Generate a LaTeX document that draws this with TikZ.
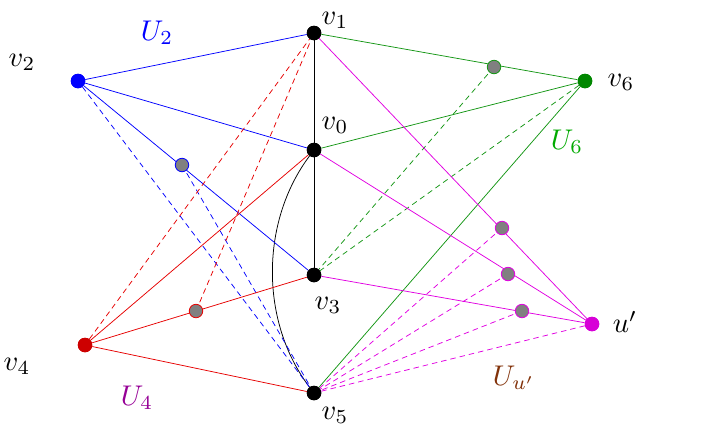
\documentclass[tikz,border=0pt]{standalone}
\usetikzlibrary{calc}
\definecolor{cblue}{RGB}{0,0,255}
\definecolor{cgreen}{RGB}{20,150,20}
\definecolor{cgreendot}{RGB}{0,135,0}
\definecolor{cgreenlab}{RGB}{0,170,0}
\definecolor{cred}{RGB}{230,0,0}
\definecolor{creddot}{RGB}{205,0,0}
\definecolor{cmag}{RGB}{225,0,225}
\definecolor{cmagdot}{RGB}{215,0,215}
\definecolor{cpurp}{RGB}{150,0,150}
\definecolor{cbrown}{RGB}{130,50,10}
\definecolor{cgray}{RGB}{128,128,128}
\begin{document}
\begin{tikzpicture}[x=1pt,y=-1pt,
  dot/.style={circle,inner sep=0pt,minimum size=14.5pt},
  bdot/.style={dot,fill=black},
  gdot/.style={dot,fill=cgray,draw=#1,line width=0.8pt,minimum size=13.5pt},
  edge/.style={line width=0.75pt},
  dedge/.style={line width=0.75pt,dash pattern=on 5.5pt off 4pt},
  lab/.style={font=\normalsize,scale=2.85,inner sep=0pt}]
\useasboundingbox (0,0) rectangle (708,432);
% vertices
\node[bdot] (v1) at (314,33) {};
\node[bdot] (v0) at (314,150) {};
\node[bdot] (v3) at (314,275) {};
\node[bdot] (v5) at (314,393) {};
\node[dot,fill=cblue] (v2) at (78,81) {};
\node[dot,fill=cgreendot] (v6) at (585,81) {};
\node[dot,fill=creddot] (v4) at (85,345) {};
\node[dot,fill=cmagdot] (u) at (592,324) {};
% gray points
\coordinate (pg6) at (494,67);
\coordinate (pg2) at (182,165);
\coordinate (pg4) at (196,311);
\coordinate (pu1) at (502,228);
\coordinate (pu2) at (508,274);
\coordinate (pu3) at (522,311);
% edges drawn first
\draw[edge] (v1) -- (v0) -- (v3);
\draw[edge] (v0) .. controls (260,222) and (260,322) .. (v5);
% blue
\draw[edge,cblue] (v2) -- (v1);
\draw[edge,cblue] (v2) -- (v0);
\draw[edge,cblue] (v2) -- (v3);
\draw[dedge,cblue] (v2) -- (v5);
\draw[dedge,cblue] (pg2) -- (v5);
% green
\draw[edge,cgreen] (v1) -- (v6);
\draw[edge,cgreen] (v0) -- (v6);
\draw[edge,cgreen] (v6) -- (v5);
\draw[dedge,cgreen] (pg6) -- (v3);
\draw[dedge,cgreen] (v6) -- (v3);
% red
\draw[edge,cred] (v4) -- (v0);
\draw[edge,cred] (v4) -- (v3);
\draw[edge,cred] (v4) -- (v5);
\draw[dedge,cred] (v4) -- (v1);
\draw[dedge,cred] (pg4) -- (v1);
% magenta
\draw[edge,cmag] (v1) -- (u);
\draw[edge,cmag] (v0) -- (u);
\draw[edge,cmag] (v3) -- (u);
\draw[dedge,cmag] (pu1) -- (v5);
\draw[dedge,cmag] (pu2) -- (v5);
\draw[dedge,cmag] (pu3) -- (v5);
\draw[dedge,cmag] (u) -- (v5);
% redraw vertices on top
\node[bdot] at (v1) {};
\node[bdot] at (v0) {};
\node[bdot] at (v3) {};
\node[bdot] at (v5) {};
\node[dot,fill=cblue] at (v2) {};
\node[dot,fill=cgreendot] at (v6) {};
\node[dot,fill=creddot] at (v4) {};
\node[dot,fill=cmagdot] at (u) {};
\node[gdot=cgreen] (g6) at (pg6) {};
\node[gdot=cblue] (g2) at (pg2) {};
\node[gdot=cred] (g4) at (pg4) {};
\node[gdot=cmag] (gu1) at (pu1) {};
\node[gdot=cmag] (gu2) at (pu2) {};
\node[gdot=cmag] (gu3) at (pu3) {};
% labels
\node[lab] (l1) at (335,20) {$v_1$};
\node[lab] (l0) at (335,125) {$v_0$};
\node[lab] (l2) at (22,62) {$v_2$};
\node[lab,text=cblue] (lU2) at (157,33) {$U_2$};
\node[lab] (l6) at (621,82) {$v_6$};
\node[lab,text=cgreenlab] (lU6) at (567,142) {$U_6$};
\node[lab] (l3) at (328,305) {$v_3$};
\node[lab] (l4) at (17,366) {$v_4$};
\node[lab,text=cpurp] (lU4) at (137,398) {$U_4$};
\node[lab] (l5) at (335,415) {$v_5$};
\node[lab] (lu) at (625,322) {$u'$};
\node[lab,text=cbrown] (lUu) at (514,378) {$U_{u'}$};
\end{tikzpicture}
\end{document}
